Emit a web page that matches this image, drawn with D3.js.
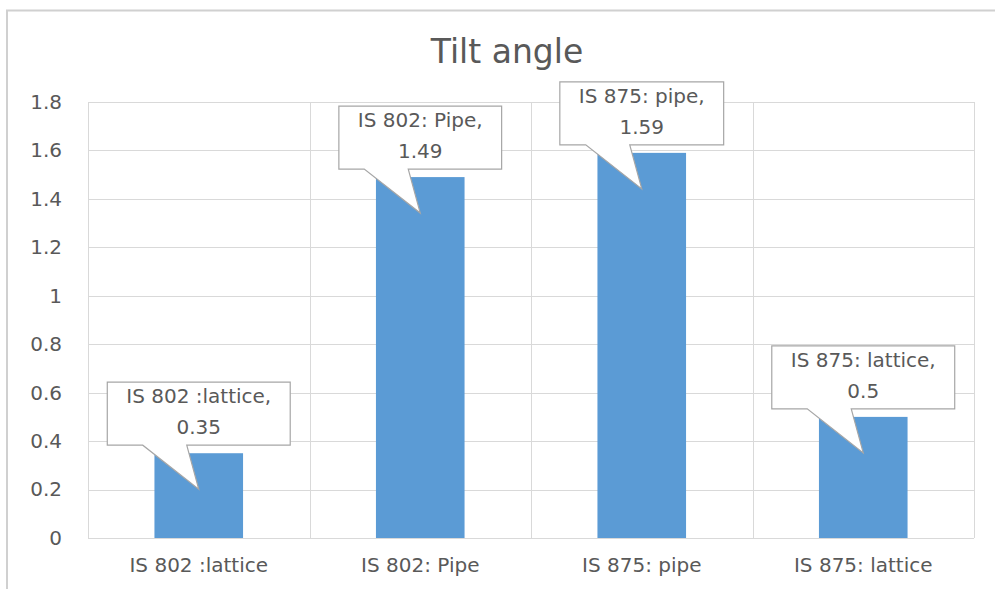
<!DOCTYPE html>
<html>
<head>
<meta charset="utf-8">
<script src="https://cdn.jsdelivr.net/npm/d3@7"></script>
<style>
  html, body { margin: 0; padding: 0; background: #fff; }
  svg { display: block; }
  text { font-family: "DejaVu Sans", sans-serif; }
</style>
</head>
<body>
<svg id="chart" width="995" height="589"></svg>
<script>
const categories = ["IS 802 :lattice", "IS 802: Pipe", "IS 875: pipe", "IS 875: lattice"];
const values = [0.35, 1.49, 1.59, 0.5];
const labelNames = ["IS 802 :lattice,", "IS 802: Pipe,", "IS 875: pipe,", "IS 875: lattice,"];
const labelValues = ["0.35", "1.49", "1.59", "0.5"];
const yTicks = [0, 0.2, 0.4, 0.6, 0.8, 1, 1.2, 1.4, 1.6, 1.8];
const title = "Tilt angle";

const svg = d3.select("#chart");
const W = 995, H = 589;
const margin = { left: 88, right: 21, top: 102, bottom: 51 };
const textColor = "#595959";
const gridColor = "#d9d9d9";
const barColor = "#5b9bd5";
const fontFam = "'DejaVu Sans', sans-serif";
const fs = 20;

// outer chart border (cropped on right/bottom)
svg.append("path")
  .attr("d", `M7,${H} L7,10.5 L${W},10.5`)
  .attr("fill", "none").attr("stroke", "#d0d0d0").attr("stroke-width", 2);

const x = d3.scaleBand().domain(categories)
  .range([margin.left, W - margin.right]).paddingInner(0.6).paddingOuter(0.3);
const y = d3.scaleLinear().domain([0, 1.8]).range([H - margin.bottom, margin.top]);

// horizontal gridlines
svg.append("g").selectAll("line").data(yTicks).join("line")
  .attr("x1", margin.left).attr("x2", W - margin.right)
  .attr("y1", d => Math.round(y(d)) + 0.5).attr("y2", d => Math.round(y(d)) + 0.5)
  .attr("stroke", gridColor).attr("stroke-width", 1);

// vertical category boundary gridlines
const step = x.step();
const bounds = d3.range(categories.length + 1).map(i => margin.left + i * step);
svg.append("g").selectAll("line").data(bounds).join("line")
  .attr("x1", d => Math.round(d) + 0.5).attr("x2", d => Math.round(d) + 0.5)
  .attr("y1", margin.top).attr("y2", H - margin.bottom)
  .attr("stroke", gridColor).attr("stroke-width", 1);

// y axis labels
const yAxis = d3.axisLeft(y).tickValues(yTicks).tickSize(0).tickPadding(26)
  .tickFormat(d => d3.format("~g")(d));
const yg = svg.append("g").attr("transform", `translate(${margin.left},0)`).call(yAxis);
yg.select(".domain").remove();
yg.selectAll("text").attr("fill", textColor).style("font-size", fs + "px")
  .style("font-family", fontFam);

// x axis labels
const xAxis = d3.axisBottom(x).tickSize(0).tickPadding(20);
const xg = svg.append("g").attr("transform", `translate(0,${H - margin.bottom})`).call(xAxis);
xg.select(".domain").attr("stroke", gridColor).attr("d", `M${margin.left},0.5H${W - margin.right}`);
xg.selectAll("text").attr("fill", textColor).style("font-size", fs + "px")
  .style("font-family", fontFam);

// bars
svg.append("g").selectAll("rect").data(values).join("rect")
  .attr("x", (d, i) => x(categories[i]))
  .attr("width", x.bandwidth())
  .attr("y", d => y(d))
  .attr("height", d => y(0) - y(d))
  .attr("fill", barColor);

// title
svg.append("text").attr("x", 507).attr("y", 63).attr("text-anchor", "middle")
  .attr("fill", textColor).style("font-size", "33px").text(title);

// callouts
const cg = svg.append("g");
values.forEach((v, i) => {
  const cx = x(categories[i]) + x.bandwidth() / 2;
  const boxBottom = y(v) - 8;
  const boxH = 63;
  const g = cg.append("g");
  const t1 = g.append("text").attr("x", cx).attr("y", boxBottom - boxH + 21)
    .attr("text-anchor", "middle").attr("fill", textColor).style("font-size", fs + "px").text(labelNames[i]);
  const t2 = g.append("text").attr("x", cx).attr("y", boxBottom - boxH + 52)
    .attr("text-anchor", "middle").attr("fill", textColor).style("font-size", fs + "px").text(labelValues[i]);
  const tw = Math.max(t1.node().getComputedTextLength(), t2.node().getComputedTextLength());
  const bw = tw + 38;
  const L = cx - bw / 2, R = cx + bw / 2, T = boxBottom - boxH, B = boxBottom;
  const tipY = B + 44;
  const p = `M${L},${T} H${R} V${B} H${cx - 12} L${cx},${tipY} L${cx - 56},${B} H${L} Z`;
  g.insert("path", "text").attr("d", p).attr("fill", "#fff")
    .attr("stroke", "#a6a6a6").attr("stroke-width", 1.2);
});
</script>
</body>
</html>
